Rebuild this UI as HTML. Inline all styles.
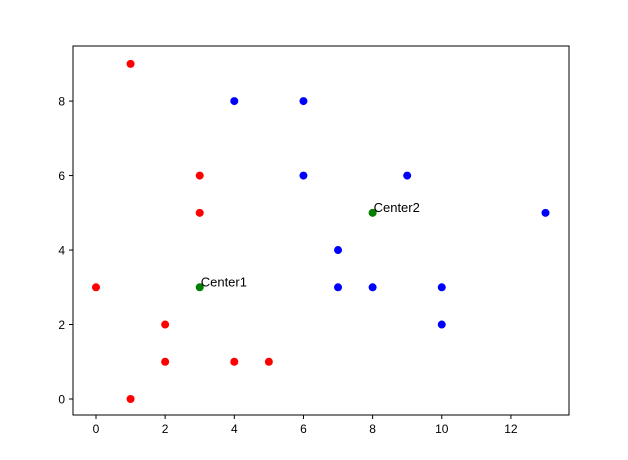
<!DOCTYPE html>
<html><head><meta charset="utf-8"><style>
html,body{margin:0;padding:0;background:#fff;}
svg{display:block;font-family:"Liberation Sans","DejaVu Sans",sans-serif;}
</style></head><body>
<svg id="chart" width="628" height="460" viewBox="0 0 628 460" xmlns="http://www.w3.org/2000/svg"></svg>
<script>
const redX=[1,3,3,0,2,2,4,5,1];
const redY=[9,6,5,3,2,1,1,1,0];
const blueX=[4,6,6,9,13,7,7,8,10,10];
const blueY=[8,8,6,6,5,4,3,3,3,2];
const centerX=[3,8];
const centerY=[3,5];
const centerLabels=["Center1","Center2"];
const xTicks=[0,2,4,6,8,10,12];
const yTicks=[0,2,4,6,8];

const L=73,R=569,T=46,B=415;
const xMin=-0.665,xMax=13.68,yMin=-0.43,yMax=9.48;
const sx=v=>L+(v-xMin)/(xMax-xMin)*(R-L);
const sy=v=>B-(v-yMin)/(yMax-yMin)*(B-T);
const NS="http://www.w3.org/2000/svg";
const svg=document.getElementById('chart');
function mk(tag,attrs,parent){const e=document.createElementNS(NS,tag);for(const k in attrs)e.setAttribute(k,attrs[k]);(parent||svg).appendChild(e);return e;}

const frame=mk('rect',{x:L,y:T,width:R-L,height:B-T,fill:'none',stroke:'#000','stroke-width':1});



xTicks.forEach(v=>{
  const x=sx(v);
  const t=mk('line',{x1:x,x2:x,y1:B,y2:B+4,stroke:'#000'});
  
  
  const l=mk('text',{x:x,y:B+18,'font-size':12,'text-anchor':'middle',fill:'#000'});
  l.textContent=v;
  
  
});
yTicks.forEach(v=>{
  const y=sy(v);
  const t=mk('line',{x1:L-4,x2:L,y1:y,y2:y,stroke:'#000'});
  
  
  const l=mk('text',{x:L-8,y:y+4.5,'font-size':12,'text-anchor':'end',fill:'#000'});
  l.textContent=v;
  
  
});

function pts(xs,ys,color,name){
  xs.forEach((v,i)=>{
    const c=mk('circle',{cx:sx(v),cy:sy(ys[i]),r:4,fill:color});
    
    
  });
}
pts(redX,redY,'#ff0000','red-point');
pts(blueX,blueY,'#0000ff','blue-point');
pts(centerX,centerY,'#008000','center-point');
centerX.forEach((v,i)=>{
  const l=mk('text',{x:sx(v)+1,y:sy(centerY[i])-1,'font-size':13,fill:'#000'});
  l.textContent=centerLabels[i];
  
  
});
</script>
</body></html>
